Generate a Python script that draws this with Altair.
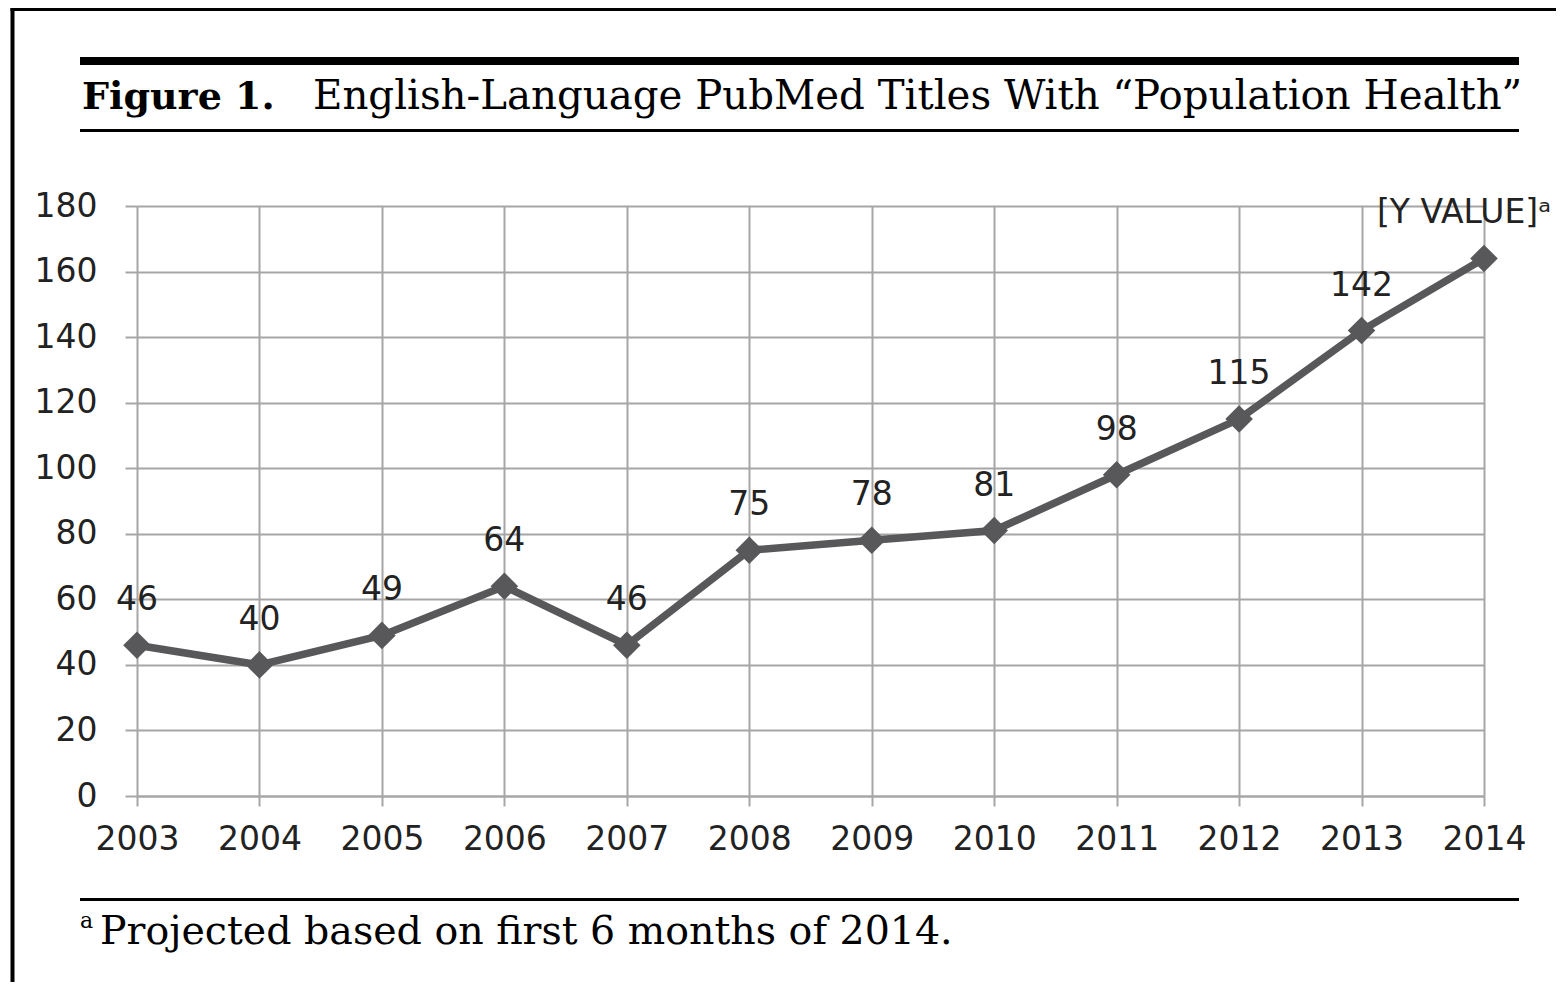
import altair as alt
import pandas as pd

years = [2003, 2004, 2005, 2006, 2007, 2008, 2009, 2010, 2011, 2012, 2013, 2014]
counts = [46, 40, 49, 64, 46, 75, 78, 81, 98, 115, 142, 164]
point_labels = ["46", "40", "49", "64", "46", "75", "78", "81", "98", "115", "142", "[Y VALUE]ᵃ"]
y_ticks = [0, 20, 40, 60, 80, 100, 120, 140, 160, 180]

title_bold = "Figure 1."
title_text = "English-Language PubMed Titles With “Population Health”"
footnote_mark = "a"
footnote_text = "Projected based on first 6 months of 2014."

df = pd.DataFrame({"year": [str(y) for y in years], "count": counts, "label": point_labels})
df["is_last"] = [i == len(years) - 1 for i in range(len(years))]

W, H = 1347, 590
GRID = "#a6a6a6"
LINE = "#58585b"
NUMFONT = "DejaVu Sans"
SERIF = "DejaVu Serif"
NUMSIZE = 33

x_enc = alt.X("year:O", scale=alt.Scale(padding=0),
              axis=alt.Axis(title=None, labelAngle=0, grid=True, gridColor=GRID, gridWidth=2,
                            domainColor=GRID, domainWidth=2, tickColor=GRID, tickWidth=2, tickSize=10,
                            labelFont=NUMFONT, labelFontSize=NUMSIZE, labelColor="#222222",
                            labelPadding=17))
y_enc = alt.Y("count:Q", scale=alt.Scale(domain=[0, 180], nice=False),
              axis=alt.Axis(title=None, values=y_ticks, grid=True, gridColor=GRID, gridWidth=2,
                            domain=False, tickColor=GRID, tickWidth=2, tickSize=12,
                            labelFont=NUMFONT, labelFontSize=NUMSIZE, labelColor="#222222",
                            labelPadding=28))

base = alt.Chart(df)
line = base.mark_line(color=LINE, strokeWidth=7.5).encode(x=x_enc, y=y_enc)
pts = base.mark_point(shape="diamond", filled=True, color=LINE, size=760, opacity=1).encode(x="year:O", y="count:Q")
labels = base.transform_filter("!datum.is_last").mark_text(
    font=NUMFONT, fontSize=NUMSIZE, color="#222222", dy=-45, baseline="middle"
).encode(x="year:O", y="count:Q", text="label:N")
last_label = base.transform_filter("datum.is_last").mark_text(
    font=NUMFONT, fontSize=NUMSIZE, color="#222222", dy=-45, dx=-20, baseline="middle"
).encode(x="year:O", y="count:Q", text="label:N")

one = pd.DataFrame({"k": [0]})

def rule(x1, x2, y1, y2, w):
    return alt.Chart(one).mark_rule(color="black", strokeWidth=w).encode(
        x=alt.value(x1), x2=alt.value(x2), y=alt.value(y1), y2=alt.value(y2))

def text(t, x, y, size, font=SERIF, weight="normal"):
    return alt.Chart(pd.DataFrame({"t": [t]})).mark_text(
        font=font, fontSize=size, fontWeight=weight, color="black", align="left", baseline="alphabetic"
    ).encode(x=alt.value(x), y=alt.value(y), text="t:N")

frame_left = rule(-124.5, -124.5, -200, 800, 4)
frame_top = rule(-126.5, 1500, -197, -197, 4)
top_thick = rule(-57, 1382, -145, -145, 8)
top_thin = rule(-57, 1382, -75.5, -75.5, 3)
bottom_rule = rule(-57, 1382, 693.5, 693.5, 3)

t1 = text(title_bold, -55, -97, 38, weight="bold")
t2 = text(title_text, 176, -97, 40.3)
f1 = text(footnote_mark, -57, 722, 22)
f2 = text(footnote_text, -37, 738, 39.5)

chart = alt.layer(
    line, pts, labels, last_label,
    frame_left, frame_top, top_thick, top_thin, bottom_rule, t1, t2, f1, f2
).properties(
    width=W, height=H,
    autosize=alt.AutoSizeParams(type="none"),
    padding={"left": 129, "top": 198, "right": 72, "bottom": 186},
    background="white"
).configure_view(stroke=None)

chart.save("out.html", embed_options={"renderer": "svg", "actions": False})
